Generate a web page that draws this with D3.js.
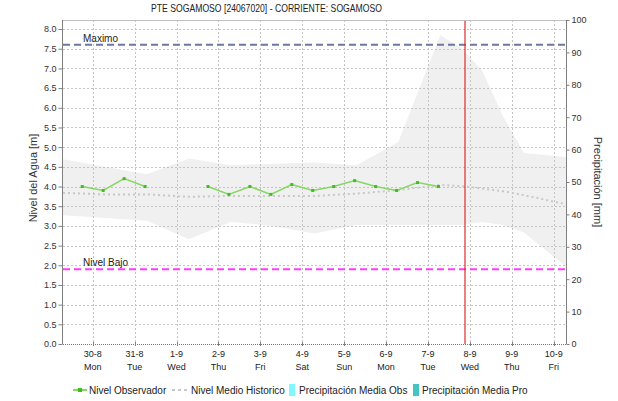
<!DOCTYPE html>
<html>
<head>
<meta charset="utf-8">
<script src="https://cdn.jsdelivr.net/npm/d3@7"></script>
<style>
  html, body { margin: 0; padding: 0; background: #fff; }
  svg { display: block; font-family: "Liberation Sans", Arial, sans-serif; }
</style>
</head>
<body>
<svg id="chart" width="618" height="401"></svg>
<script>
// Station level chart: observed level, historical mean and historical range band
const titleText = "PTE SOGAMOSO [24067020] - CORRIENTE: SOGAMOSO";

// Axis tick labels (dates and weekdays)
const tickDates = ["2021-08-30","2021-08-31","2021-09-01","2021-09-02","2021-09-03","2021-09-04",
                   "2021-09-05","2021-09-06","2021-09-07","2021-09-08","2021-09-09","2021-09-10"];
const tickDayLabels = ["30-8","31-8","1-9","2-9","3-9","4-9","5-9","6-9","7-9","8-9","9-9","10-9"];
const tickWeekdays = ["Mon","Tue","Wed","Thu","Fri","Sat","Sun","Mon","Tue","Wed","Thu","Fri"];

// Observed water level [m]
const obsTimes = ["2021-08-29T18:00","2021-08-30T06:00","2021-08-30T18:00","2021-08-31T06:00",
                  "2021-08-31T18:00","2021-09-01T06:00","2021-09-01T18:00","2021-09-02T06:00",
                  "2021-09-02T18:00","2021-09-03T06:00","2021-09-03T18:00","2021-09-04T06:00",
                  "2021-09-04T18:00","2021-09-05T06:00","2021-09-05T18:00","2021-09-06T06:00",
                  "2021-09-06T18:00","2021-09-07T06:00"];
const obsLevel = [4.0, 3.9, 4.2, 4.0, null, null, 4.0, 3.8, 4.0, 3.8, 4.05, 3.9, 4.0, 4.15, 4.0, 3.9, 4.1, 4.0];

// Historical statistics [m]
const histTimes = ["2021-08-29T07:00","2021-08-30T07:00","2021-08-31T07:00","2021-09-01T07:00",
                   "2021-09-02T07:00","2021-09-03T07:00","2021-09-04T07:00","2021-09-05T07:00",
                   "2021-09-06T07:00","2021-09-07T07:00","2021-09-07T19:00","2021-09-08T07:00",
                   "2021-09-08T19:00","2021-09-09T07:00","2021-09-10T07:00"];
const histMax  = [4.69, 4.50, 4.31, 4.71, 4.54, 4.58, 4.61, 4.54, 5.13, 7.84, 7.52, 6.95, 5.78, 4.85, 4.75];
const histMin  = [3.27, 3.20, 3.13, 2.66, 3.10, 3.00, 2.81, 3.02, 3.02, 3.02, 3.02, 3.10, 3.02, 2.83, 1.96];
const histMean = [3.84, 3.80, 3.80, 3.74, 3.76, 3.76, 3.76, 3.82, 3.91, 4.04, 4.01, 3.95, 3.88, 3.78, 3.55];

// Reference levels and current time marker
const levelMax = 7.6;
const levelLow = 1.9;
const nowTime = "2021-09-07T21:00";

// Legend entries
const legendNames = ["Nivel Observador", "Nivel Medio Historico", "Precipitación Media Obs", "Precipitación Media Pro"];

const parse = s => new Date(s.length > 10 ? s + ":00Z" : s + "T00:00:00Z");

const svg = d3.select("#chart");
const L = 63, R = 566, T = 20, B = 344;

const x = d3.scaleUtc()
  .domain([parse("2021-08-29T07:00"), parse("2021-09-10T07:00")])
  .range([L, R]);
const y = d3.scaleLinear().domain([0, 8.23]).range([B, T]);
const yR = d3.scaleLinear().domain([0, 100]).range([B, T]);

const gridColor = "#c4c4c4";

// plot background
svg.append("rect").attr("x", L).attr("y", T).attr("width", R - L).attr("height", B - T).attr("fill", "#fff");

// historical range band
const hist = histTimes.map((t, i) => ({ t: parse(t), max: histMax[i], min: histMin[i], mean: histMean[i] }));
svg.append("path")
  .datum(hist)
  .attr("fill", "#f0f0f0")
  .attr("d", d3.area().x(d => x(d.t)).y0(d => y(d.min)).y1(d => y(d.max)));

// gridlines
const yTicks = d3.range(0, 8.01, 0.5);
svg.append("g").selectAll("line").data(yTicks.filter(v => v > 0)).join("line")
  .attr("x1", L).attr("x2", R)
  .attr("y1", d => Math.round(y(d)) + 0.5).attr("y2", d => Math.round(y(d)) + 0.5)
  .attr("stroke", gridColor).attr("stroke-dasharray", "2,2");
const dayTicks = tickDates.map(parse);
svg.append("g").selectAll("line").data(dayTicks).join("line")
  .attr("x1", d => Math.round(x(d)) + 0.5).attr("x2", d => Math.round(x(d)) + 0.5)
  .attr("y1", T).attr("y2", B)
  .attr("stroke", gridColor).attr("stroke-dasharray", "2,2");

// reference levels
svg.append("line").attr("x1", L).attr("x2", R).attr("y1", y(levelMax)).attr("y2", y(levelMax))
  .attr("stroke", "#6a78a2").attr("stroke-width", 2).attr("stroke-dasharray", "7,4");
svg.append("line").attr("x1", L).attr("x2", R).attr("y1", y(levelLow)).attr("y2", y(levelLow))
  .attr("stroke", "#ff3cff").attr("stroke-width", 2).attr("stroke-dasharray", "7,4");
svg.append("text").attr("x", 83).attr("y", y(levelMax) - 3).attr("font-size", 10).attr("fill", "#222").text("Maximo");
svg.append("text").attr("x", 83).attr("y", y(levelLow) - 3).attr("font-size", 10).attr("fill", "#222").text("Nivel Bajo");

// historical mean
svg.append("path")
  .datum(hist)
  .attr("fill", "none").attr("stroke", "#c8c8c8").attr("stroke-width", 2).attr("stroke-dasharray", "2,3")
  .attr("d", d3.line().x(d => x(d.t)).y(d => y(d.mean)));

// observed level
const obs = obsTimes.map((t, i) => ({ t: parse(t), v: obsLevel[i] }));
svg.append("path")
  .datum(obs)
  .attr("fill", "none").attr("stroke", "#86d862").attr("stroke-width", 1.5)
  .attr("d", d3.line().defined(d => d.v !== null).x(d => x(d.t)).y(d => y(d.v)));
svg.append("g").selectAll("rect").data(obs.filter(d => d.v !== null)).join("rect")
  .attr("x", d => x(d.t) - 1.5).attr("y", d => y(d.v) - 1.5).attr("width", 3).attr("height", 3)
  .attr("fill", "#3fbf1f");

// current time marker
const nowX = Math.round(x(parse(nowTime)));
svg.append("line")
  .attr("x1", nowX).attr("x2", nowX)
  .attr("y1", T).attr("y2", B).attr("stroke", "#dc2a2a").attr("stroke-width", 1.2);

// frame
svg.append("line").attr("x1", L).attr("x2", R).attr("y1", T + 0.5).attr("y2", T + 0.5).attr("stroke", "#c0c0c0");
svg.append("line").attr("x1", L).attr("x2", R).attr("y1", B + 0.5).attr("y2", B + 0.5)
  .attr("stroke", "#777").attr("stroke-dasharray", "1,1");

// left axis
const axL = svg.append("g").attr("transform", `translate(${L - 0.5},0)`)
  .call(d3.axisLeft(y).tickValues(yTicks).tickFormat(d3.format(".1f")).tickSize(4).tickPadding(2));
axL.select(".domain").attr("stroke", "#808080").attr("d", `M0,${T}V${B}`);
axL.selectAll(".tick line").attr("stroke", "#808080");
axL.selectAll("text").attr("font-size", 9).attr("fill", "#333").attr("font-family", null);

// right axis
const axR = svg.append("g").attr("transform", `translate(${R + 0.5},0)`)
  .call(d3.axisRight(yR).tickValues(d3.range(0, 101, 10)).tickSize(3).tickPadding(2));
axR.select(".domain").attr("stroke", "#808080").attr("d", `M0,${T}V${B}`);
axR.selectAll(".tick line").attr("stroke", "#808080");
axR.selectAll("text").attr("font-size", 9).attr("fill", "#333").attr("font-family", null);

// bottom axis: date and weekday
const axB = svg.append("g").attr("transform", `translate(0,${B})`);
axB.selectAll("line").data(dayTicks).join("line")
  .attr("x1", d => Math.round(x(d)) + 0.5).attr("x2", d => Math.round(x(d)) + 0.5)
  .attr("y1", -2).attr("y2", 2).attr("stroke", "#808080");
axB.selectAll("text.date").data(dayTicks).join("text").attr("class", "date")
  .attr("x", d => x(d)).attr("y", 13).attr("text-anchor", "middle").attr("font-size", 9).attr("fill", "#222")
  .text((d, i) => tickDayLabels[i]);
axB.selectAll("text.wd").data(dayTicks).join("text").attr("class", "wd")
  .attr("x", d => x(d)).attr("y", 26).attr("text-anchor", "middle").attr("font-size", 9).attr("fill", "#222")
  .text((d, i) => tickWeekdays[i]);

// axis titles
svg.append("text").attr("transform", `translate(37,${(T + B) / 2 - 4}) rotate(-90)`)
  .attr("text-anchor", "middle").attr("font-size", 11).attr("fill", "#333").text("Nivel del Agua [m]");
svg.append("text").attr("transform", `translate(594,${(T + B) / 2}) rotate(90)`)
  .attr("text-anchor", "middle").attr("font-size", 11).attr("fill", "#333").text("Precipitación [mm]");

// title
svg.append("text").attr("x", 151).attr("y", 12)
  .attr("font-size", 11).attr("fill", "#222")
  .attr("textLength", 231).attr("lengthAdjust", "spacingAndGlyphs")
  .text(titleText);

// legend
const lg = svg.append("g").attr("transform", "translate(0,390)");
lg.append("line").attr("x1", 73).attr("x2", 87).attr("y1", 0).attr("y2", 0).attr("stroke", "#5cc82e").attr("stroke-width", 1.5);
lg.append("rect").attr("x", 78).attr("y", -2).attr("width", 4).attr("height", 4).attr("fill", "#3fbf1f");
lg.append("text").attr("x", 89).attr("y", 4).attr("font-size", 10).attr("fill", "#222").text(legendNames[0]);
lg.append("line").attr("x1", 172).attr("x2", 187).attr("y1", 0).attr("y2", 0)
  .attr("stroke", "#c8c8c8").attr("stroke-width", 2).attr("stroke-dasharray", "3,3");
lg.append("text").attr("x", 191).attr("y", 4).attr("font-size", 10).attr("fill", "#222").text(legendNames[1]);
lg.append("rect").attr("x", 289).attr("y", -6).attr("width", 6).attr("height", 12).attr("fill", "#7ff8ff");
lg.append("text").attr("x", 299).attr("y", 4).attr("font-size", 10).attr("fill", "#222").text(legendNames[2]);
lg.append("rect").attr("x", 413).attr("y", -6).attr("width", 6).attr("height", 12).attr("fill", "#45c4c4");
lg.append("text").attr("x", 422).attr("y", 4).attr("font-size", 10).attr("fill", "#222").text(legendNames[3]);
</script>
</body>
</html>
